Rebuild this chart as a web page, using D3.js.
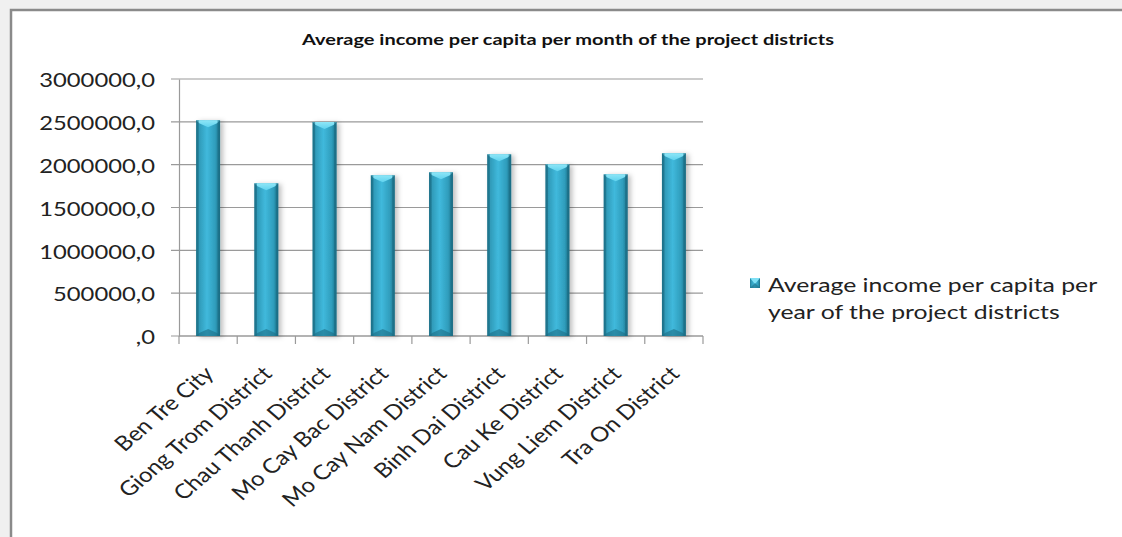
<!DOCTYPE html>
<html><head><meta charset="utf-8">
<script src="https://cdn.jsdelivr.net/npm/d3@7"></script>
<style>
html,body{margin:0;padding:0;background:#f0f0f0;}
svg{display:block;}
</style></head>
<body>
<svg id="chart" width="1122" height="537"></svg>
<script>
const categories = ["Ben Tre City","Giong Trom District","Chau Thanh District","Mo Cay Bac District","Mo Cay Nam District","Binh Dai District","Cau Ke District","Vung Liem District","Tra On District"];
const values = [2518000,1782000,2498000,1876000,1911000,2121000,2004000,1887000,2133000];
const yTicks = [0,500000,1000000,1500000,2000000,2500000,3000000];
const yTickLabels = [",0","500000,0","1000000,0","1500000,0","2000000,0","2500000,0","3000000,0"];
const titleText = "Average income per capita per month of the project districts";
const legendLines = ["Average income per capita per","year of the project districts"];

const svg = d3.select("#chart");
const font = "Lato, 'Open Sans', sans-serif";

// chart frame
svg.append("rect").attr("x",11).attr("y",10).attr("width",1122).attr("height",540)
  .attr("fill","#fff").attr("stroke","#8a8a8a").attr("stroke-width",2.5);

const defs = svg.append("defs");
const g1 = defs.append("linearGradient").attr("id","barGrad").attr("x1","0").attr("x2","1").attr("y1","0").attr("y2","0");
[[0,"#1f7a93"],[0.12,"#2f9ab8"],[0.45,"#40b9dc"],[0.8,"#2f9dbc"],[1,"#1c6f86"]].forEach(([o,c])=>g1.append("stop").attr("offset",o).attr("stop-color",c));
const g2 = defs.append("linearGradient").attr("id","topGrad").attr("x1","0").attr("x2","0").attr("y1","0").attr("y2","1");
[[0,"#8ee6f7"],[1,"#5fd2ee"]].forEach(([o,c])=>g2.append("stop").attr("offset",o).attr("stop-color",c));
const f = defs.append("filter").attr("id","shadow").attr("x","-30%").attr("y","-10%").attr("width","180%").attr("height","120%");
f.append("feDropShadow").attr("dx",3).attr("dy",1).attr("stdDeviation",2.5).attr("flood-color","#000").attr("flood-opacity",0.25);

const margin = {left:179, right:703, top:79, bottom:336};
const x = d3.scaleBand().domain(categories).range([margin.left, margin.right]).paddingInner(0.59).paddingOuter(0.295);
const y = d3.scaleLinear().domain([0,3000000]).range([margin.bottom, margin.top]);

// gridlines
svg.append("g").selectAll("line").data(yTicks).join("line")
  .attr("x1",margin.left-8).attr("x2",margin.right)
  .attr("y1",d=>y(d)).attr("y2",d=>y(d))
  .attr("stroke","#9a9a9a").attr("stroke-width",1.2);

// y axis line (via d3 axis)
const yAxis = d3.axisLeft(y).tickValues(yTicks).tickSize(0).tickFormat("");
const ya = svg.append("g").attr("transform",`translate(${margin.left},0)`).call(yAxis);
ya.select(".domain").attr("stroke","#9a9a9a").attr("stroke-width",1.2);

// y tick labels (horizontally stretched like the reference)
svg.append("g").selectAll("g").data(yTicks).join("g")
  .attr("transform",d=>`translate(155,${y(d)}) scale(1.22,1)`)
  .append("text").attr("text-anchor","end").attr("dy","0.42em")
  .attr("font-family",font).attr("font-size",19.5).attr("fill","#222")
  .text((d,i)=>yTickLabels[i]);

// x axis
const boundaries = d3.range(categories.length+1).map(i=>margin.left + i*(margin.right-margin.left)/categories.length);
svg.append("line").attr("x1",margin.left).attr("x2",margin.right).attr("y1",y(0)).attr("y2",y(0))
  .attr("stroke","#9a9a9a").attr("stroke-width",1.2);
svg.append("g").selectAll("line").data(boundaries).join("line")
  .attr("x1",d=>d).attr("x2",d=>d).attr("y1",y(0)).attr("y2",y(0)+8)
  .attr("stroke","#9a9a9a").attr("stroke-width",1.2);

// bars
const bars = svg.append("g").selectAll("g").data(categories).join("g");
bars.append("rect")
  .attr("x",d=>x(d)).attr("width",x.bandwidth())
  .attr("y",(d,i)=>y(values[i])).attr("height",(d,i)=>y(0)-y(values[i]))
  .attr("fill","url(#barGrad)").attr("filter","url(#shadow)");
bars.append("path")
  .attr("d",(d,i)=>{const x0=x(d),w=x.bandwidth(),t=y(values[i]),b=7;
    return `M${x0},${t}L${x0+w},${t}L${x0+w-3},${t+3}L${x0+w/2},${t+b}L${x0+3},${t+3}Z`;})
  .attr("fill","url(#topGrad)");
bars.append("path")
  .attr("d",(d,i)=>{const x0=x(d),w=x.bandwidth(),bt=y(0),b=7;
    return `M${x0},${bt}L${x0+w},${bt}L${x0+w-3},${bt-3}L${x0+w/2},${bt-b}L${x0+3},${bt-3}Z`;})
  .attr("fill","#1d6e85").attr("opacity",0.6);
bars.append("rect").attr("x",d=>x(d)).attr("width",2.5)
  .attr("y",(d,i)=>y(values[i])).attr("height",(d,i)=>y(0)-y(values[i])).attr("fill","#1b6b82").attr("opacity",0.6);
bars.append("rect").attr("x",d=>x(d)+x.bandwidth()-2.5).attr("width",2.5)
  .attr("y",(d,i)=>y(values[i])).attr("height",(d,i)=>y(0)-y(values[i])).attr("fill","#1b6b82").attr("opacity",0.6);

// x labels
svg.append("g").selectAll("g").data(categories).join("g")
  .attr("transform",d=>`translate(${x(d)+x.bandwidth()/2+7},${y(0)+39}) scale(1.17,1) rotate(-45)`)
  .append("text").attr("text-anchor","end")
  .attr("font-family",font).attr("font-size",20.5).attr("fill","#222")
  .text(d=>d);

// title
svg.append("g").attr("transform","translate(568,45) scale(1.29,1)")
  .append("text").attr("text-anchor","middle")
  .attr("font-family",font).attr("font-weight","bold").attr("font-size",15.5).attr("fill","#111")
  .text(titleText);

// legend
const lg = svg.append("g");
lg.append("rect").attr("x",750).attr("y",278).attr("width",10).attr("height",10).attr("fill","url(#barGrad)");
lg.append("path").attr("d","M750,278L760,278L755,284Z").attr("fill","#7fe0f5");
lg.append("path").attr("d","M750,288L760,288L755,283Z").attr("fill","#1d6e85").attr("opacity",0.6);
lg.selectAll("g").data(legendLines).join("g")
  .attr("transform",(d,i)=>`translate(768,${292+i*27}) scale(1.24,1)`)
  .append("text")
  .attr("font-family",font).attr("font-size",20).attr("fill","#222")
  .text(d=>d);
</script>
</body></html>
